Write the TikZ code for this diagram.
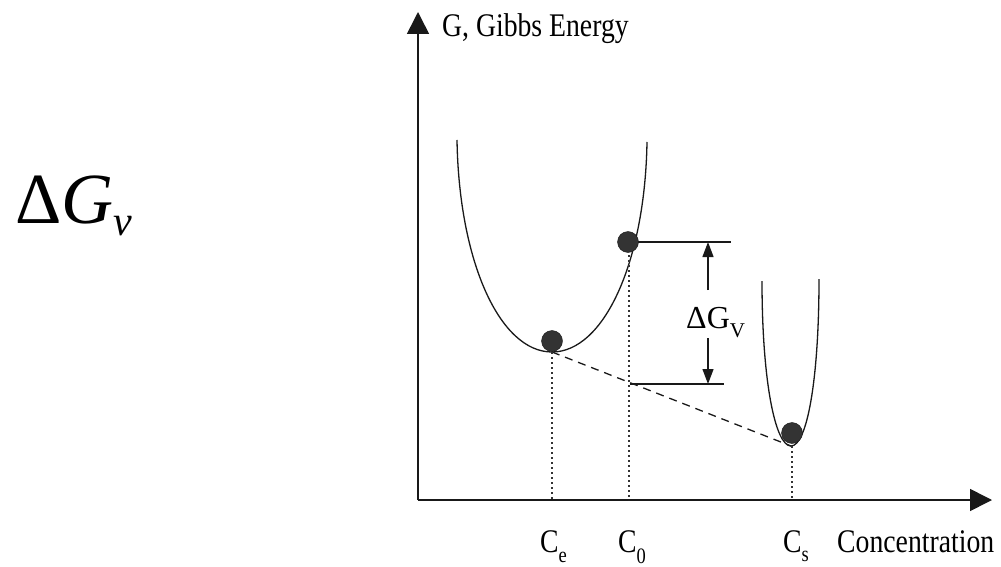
\documentclass[tikz,border=0pt]{standalone}
\usepackage{fontspec}
\setmainfont{Liberation Serif}
\usetikzlibrary{arrows.meta}
\begin{document}
\begin{tikzpicture}[x=1pt,y=-1pt,
  curve/.style={line width=1.3pt, black!90},
  axis/.style={line width=1.6pt, black!90, -{Triangle[length=22pt,width=22pt]}},
  dimline/.style={line width=1.3pt, black!90},
  dimarrow/.style={line width=1.3pt, black!90, -{Triangle[length=15pt,width=11pt]}},
  dotline/.style={line width=1.2pt, black!80, dash pattern=on 1.6pt off 3.4pt},
  dashline/.style={line width=1.3pt, black!90, dash pattern=on 8pt off 6pt},
  ball/.style={circle, fill=black!80, draw=black!90, minimum size=21pt, inner sep=0pt},
  lbl/.style={font=\fontsize{33}{38}\selectfont, inner sep=0pt, xscale=0.84, transform shape},
  sub/.style={font=\fontsize{22}{24}\selectfont}
]
\useasboundingbox (0,0) rectangle (1001,567);

% axes
\coordinate (O) at (418,500);
\coordinate (ytip) at (418,12);
\coordinate (xtip) at (992,500);
\draw[axis] (O) -- (ytip);
\draw[axis] (O) -- (xtip);

% curves
\coordinate (L1) at (457,140);
\coordinate (Lmin) at (552,352);
\coordinate (L2) at (647,142);
\draw[curve] (L1) .. controls (459,262) and (500,352) .. (Lmin)
  .. controls (604,352) and (645,262) .. (L2);
\coordinate (R1) at (762,281);
\coordinate (Rmin) at (791,446);
\coordinate (R2) at (819,279);
\draw[curve] (R1) .. controls (762,380) and (775,446) .. (Rmin)
  .. controls (807,446) and (819,380) .. (R2);

% tangent (dashed)
\draw[dashline] (Lmin) -- (Rmin);

% dotted drop lines
\coordinate (ce) at (552,500);
\coordinate (c0top) at (629,250);
\coordinate (c0) at (629,500);
\coordinate (cstop) at (792,446);
\coordinate (cs) at (792,500);
\draw[dotline] (Lmin) -- (ce);
\draw[dotline] (c0top) -- (c0);
\draw[dotline] (cstop) -- (cs);

% dimension lines
\coordinate (h1a) at (638,242);
\coordinate (h1b) at (731,242);
\coordinate (h2a) at (630,384);
\coordinate (h2b) at (724,384);
\draw[dimline] (h1a) -- (h1b);
\draw[dimline] (h2a) -- (h2b);
\coordinate (a1s) at (708,290);
\coordinate (a1e) at (708,242);
\coordinate (a2s) at (708,338);
\coordinate (a2e) at (708,384);
\draw[dimarrow] (a1s) -- (a1e);
\draw[dimarrow] (a2s) -- (a2e);

% balls
\node[ball] (bL) at (552,341) {};
\node[ball] (bU) at (628,242) {};
\node[ball] (bR) at (792,433) {};

% labels
\node[anchor=base west, inner sep=0pt] (dgvlbl) at (686,328)
  {\fontsize{32}{36}\selectfont ΔG\raisebox{-9pt}{\fontsize{21}{24}\selectfont V}};
\node[lbl, anchor=base west] (glbl) at (442,37) {G, Gibbs Energy};
\node[lbl, anchor=base west] (conc) at (837,552) {Concentration};
\node[lbl, anchor=base west] (celbl) at (540,552) {C\raisebox{-10pt}{\fontsize{22}{24}\selectfont e}};
\node[lbl, anchor=base west] (c0lbl) at (618,552) {C\raisebox{-11pt}{\fontsize{22}{24}\selectfont 0}};
\node[lbl, anchor=base west] (cslbl) at (783,552) {C\raisebox{-9pt}{\fontsize{22}{24}\selectfont s}};

\node[anchor=base west, inner sep=0pt] (big) at (15,223)
  {\fontsize{72}{80}\selectfont Δ\textit{G}\raisebox{-12pt}{\fontsize{42}{48}\selectfont\textit{v}}};
\end{tikzpicture}
\end{document}
